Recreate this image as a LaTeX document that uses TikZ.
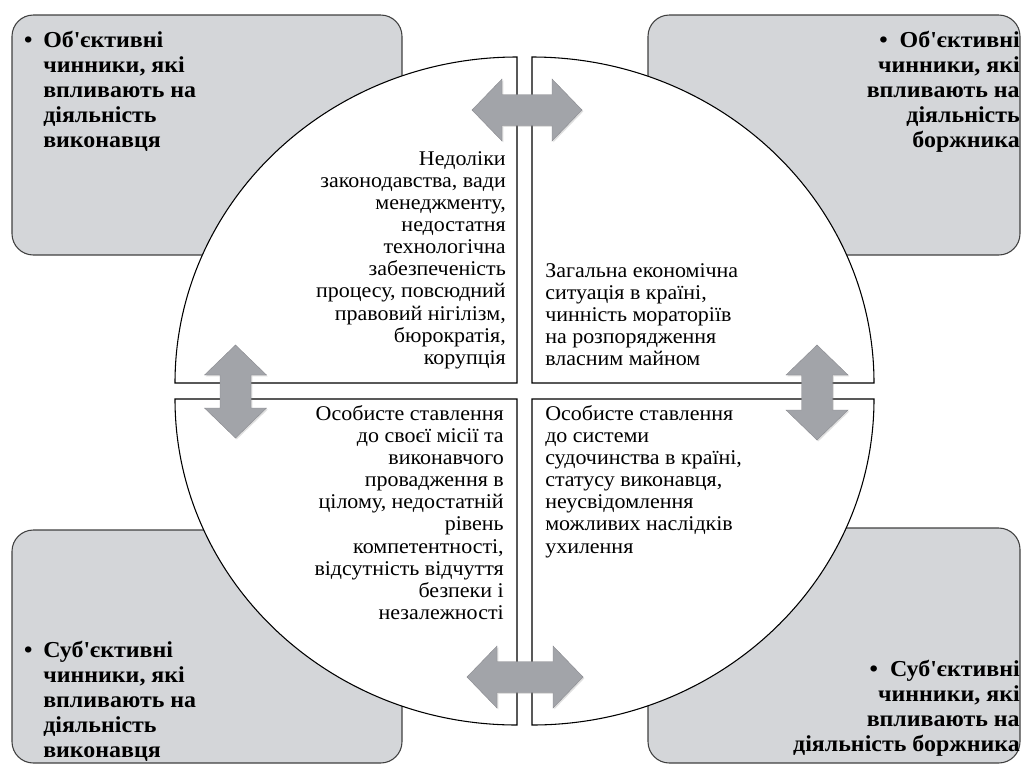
\documentclass[tikz,border=0pt]{standalone}
\usepackage{fontspec}
\setmainfont{Liberation Serif}[FakeStretch=1.05]
\usetikzlibrary{shadows}
\definecolor{boxgray}{RGB}{212,214,217}
\definecolor{arrowgray}{RGB}{162,164,169}
\tikzset{
	corner/.style={draw=black!75, fill=boxgray, rounded corners=16pt, line width=0.8pt},
	quarter/.style={draw=black, fill=white, line width=0.8pt},
	dblarrow/.style={fill=arrowgray, draw=arrowgray!85!black, line width=0.3pt, drop shadow={opacity=0.25, shadow xshift=1pt, shadow yshift=-1pt}},
	qtext/.style={inner sep=0pt, font=\fontsize{15.7}{16.6}\selectfont},
	ctext/.style={inner sep=0pt, font=\bfseries\fontsize{17.1}{18.8}\selectfont},
}

\begin{document}
\begin{tikzpicture}[x=0.75pt, y=0.75pt]
		\useasboundingbox (0,0) rectangle (1024,-765);
		\draw[corner] (12,-15) rectangle (402,-255);
		\draw[corner] (648,-15) rectangle (1020,-255);
		\draw[corner] (12,-530) rectangle (402,-763);
		\draw[corner] (648,-528) rectangle (1020,-763);
		\draw[quarter] (517,-383) -- (517,-57) arc[start angle=90, end angle=180, x radius=342, y radius=326] -- cycle;
		\draw[quarter] (532,-383) -- (874,-383) arc[start angle=0, end angle=90, x radius=342, y radius=326] -- cycle;
		\draw[quarter] (517,-399) -- (175,-399) arc[start angle=180, end angle=270, x radius=342, y radius=326] -- cycle;
		\draw[quarter] (532,-399) -- (532,-725) arc[start angle=270, end angle=360, x radius=342, y radius=326] -- cycle;
		\foreach \x/\y/\a/\l in {527/-110/0/55, 525/-677/0/58, 235.5/-391.5/90/46.5, 817/-392.5/90/47.5}
			{
				\draw[dblarrow, shift={(\x,\y)}, rotate=\a] (-\l,0) -- (-\l+30,31) -- (-\l+30,15.5) -- (\l-30,15.5) -- (\l-30,31) -- (\l,0)
					-- (\l-30,-31) -- (\l-30,-15.5) -- (-\l+30,-15.5) -- (-\l+30,-31) -- cycle;
			}
		\node[qtext, anchor=north east, align=right] (tlq) at (506,-151) {Недоліки\\законодавства, вади\\менеджменту,\\недостатня\\технологічна\\забезпеченість\\процесу, повсюдний\\правовий нігілізм,\\бюрократія,\\корупція};
		\node[qtext, anchor=north west, align=left] (trq) at (545,-263) {Загальна економічна\\ситуація в країні,\\чинність мораторіїв\\на розпорядження\\власним майном};
		\node[qtext, anchor=north east, align=right] (blq) at (504,-405) {Особисте ставлення\\до своєї місії та\\виконавчого\\провадження в\\цілому, недостатній\\рівень\\компетентності,\\відсутність відчуття\\безпеки і\\незалежності};
		\node[qtext, anchor=north west, align=left] (brq) at (545,-405) {Особисте ставлення\\до системи\\судочинства в країні,\\статусу виконавця,\\неусвідомлення\\можливих наслідків\\ухилення};
		\node[ctext, anchor=north west, align=left] (tlc) at (43,-31) {\llap{•\hspace{8pt}}Об\textquotesingle єктивні\\чинники, які\\впливають на\\діяльність\\виконавця};
		\node[ctext, anchor=north east, align=right] (trc) at (1020,-31) {•\hspace{9pt}Об\textquotesingle єктивні\\чинники, які\\впливають на\\діяльність\\боржника};
		\node[ctext, anchor=north west, align=left] (blc) at (43,-641) {\llap{•\hspace{8pt}}Суб\textquotesingle єктивні\\чинники, які\\впливають на\\діяльність\\виконавця};
		\node[ctext, anchor=north east, align=right] (brc) at (1020,-660) {•\hspace{9pt}Суб\textquotesingle єктивні\\чинники, які\\впливають на\\діяльність боржника};
\end{tikzpicture}
\end{document}
